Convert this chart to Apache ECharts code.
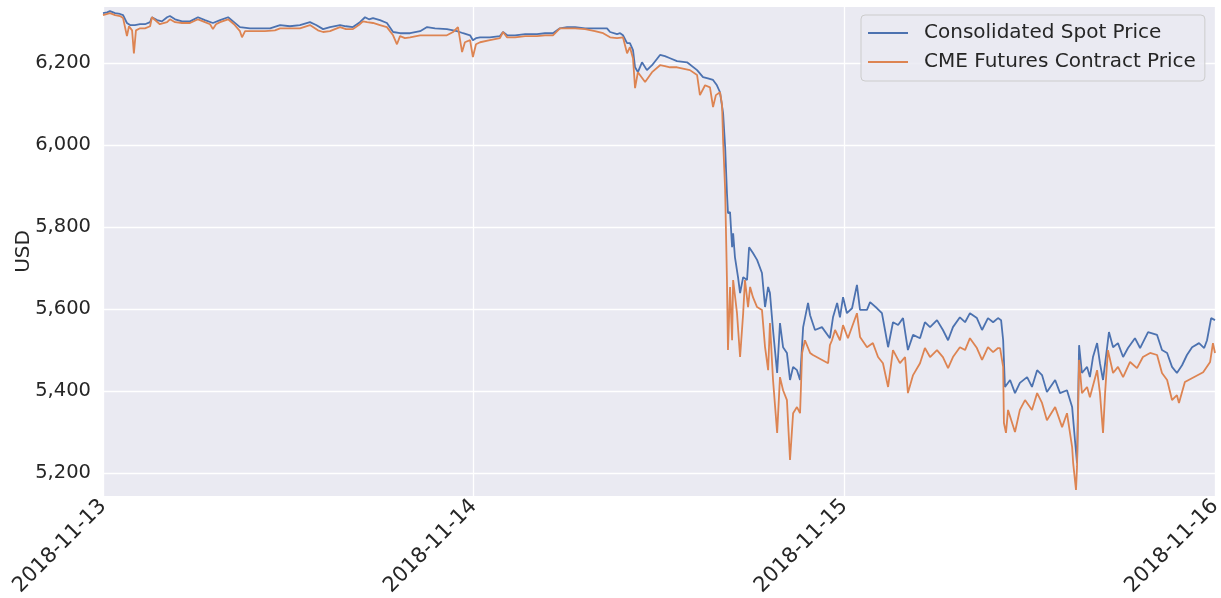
<!DOCTYPE html>
<html>
<head>
<meta charset="utf-8">
<script src="https://cdn.jsdelivr.net/npm/echarts@6/dist/echarts.min.js"></script>
<style>
html,body{margin:0;padding:0;background:#ffffff;}
#chart{width:1221px;height:598px;}
</style>
</head>
<body>
<div id="chart"></div>
<script>
// x: minutes since 2018-11-13 00:00
const dayTickLabels = ['2018-11-13', '2018-11-14', '2018-11-15', '2018-11-16'];
const yTickValues = [5200, 5400, 5600, 5800, 6000, 6200];

const spotMinutes = [
  0,16,27,47,66,78,93,105,124,144,
  163,183,190,210,229,249,260,280,307,338,
  369,396,427,455,486,509,532,571,610,649,
  688,726,765,804,828,855,882,921,944,971,
  998,1018,1033,1049,1076,1103,1127,1154,1193,1232,
  1259,1290,1336,1375,1399,1426,1437,1449,1465,1503,
  1542,1554,1570,1601,1640,1686,1717,1748,1775,1803,
  1834,1873,1911,1943,1958,1970,1997,2009,2020,2036,
  2047,2059,2067,2078,2094,2113,2133,2164,2183,2203,
  2230,2269,2308,2331,2350,2370,2385,2397,2409,2417,
  2424,2428,2436,2444,2448,2455,2467,2475,2487,2502,
  2510,2525,2541,2545,2560,2572,2584,2591,2603,2619,
  2630,2642,2657,2669,2681,2696,2708,2720,2739,2747,
  2766,2793,2824,2836,2852,2863,2875,2890,2910,2929,
  2941,2968,2980,3007,3026,3038,3050,3069,3089,3108,
  3127,3147,3174,3193,3213,3240,3263,3283,3302,3329,
  3349,3368,3395,3415,3438,3458,3477,3489,3497,3504,
  3524,3543,3562,3590,3609,3629,3648,3667,3699,3718,
  3745,3765,3776,3784,3792,3803,3823,3834,3846,3862,
  3873,3885,3901,3908,3924,3943,3963,3982,4009,4029,
  4060,4095,4114,4134,4153,4172,4192,4211,4231,4258,
  4278,4289,4305,4320
];
const spotPrice = [
  6322,6324,6327,6322,6320,6317,6298,6293,6293,6295,
  6295,6300,6312,6305,6302,6312,6315,6307,6302,6302,
  6312,6305,6298,6305,6312,6300,6288,6285,6285,6285,
  6293,6290,6293,6300,6293,6283,6288,6293,6290,6288,
  6300,6312,6307,6310,6305,6298,6276,6273,6273,6278,
  6288,6285,6283,6278,6273,6268,6256,6261,6263,6263,
  6266,6276,6268,6268,6271,6271,6273,6273,6285,6288,
  6288,6285,6285,6285,6285,6276,6271,6273,6268,6249,
  6249,6232,6190,6178,6202,6183,6195,6220,6217,6212,
  6205,6202,6183,6166,6163,6159,6146,6129,6078,5995,
  5883,5834,5837,5751,5785,5727,5678,5639,5678,5671,
  5751,5737,5720,5724,5688,5605,5654,5639,5549,5444,
  5566,5507,5493,5427,5459,5451,5427,5556,5615,5585,
  5549,5556,5529,5580,5615,5580,5629,5590,5602,5659,
  5598,5598,5617,5602,5590,5549,5507,5568,5561,5578,
  5500,5537,5529,5568,5556,5573,5549,5524,5556,5580,
  5568,5590,5578,5549,5578,5568,5578,5573,5524,5410,
  5427,5395,5420,5434,5410,5451,5439,5398,5427,5395,
  5402,5361,5280,5224,5512,5444,5459,5434,5483,5517,
  5468,5427,5507,5544,5507,5517,5483,5505,5529,5505,
  5544,5537,5500,5493,5459,5444,5463,5488,5507,5517,
  5505,5524,5578,5573
];

const futMinutes = [
  0,27,47,66,78,93,101,113,120,128,
  144,163,183,190,221,249,260,280,307,338,
  369,396,416,427,439,455,486,509,532,540,
  552,591,629,668,688,726,765,804,835,855,
  882,901,921,944,971,998,1010,1026,1049,1076,
  1103,1127,1142,1154,1173,1193,1232,1270,1309,1336,
  1360,1379,1395,1406,1426,1437,1449,1465,1503,1542,
  1554,1570,1601,1640,1686,1717,1748,1775,1803,1834,
  1873,1911,1943,1970,1997,2020,2036,2047,2059,2067,
  2078,2106,2133,2164,2183,2203,2230,2280,2308,2319,
  2339,2358,2370,2381,2397,2405,2409,2417,2424,2428,
  2436,2444,2448,2463,2475,2487,2494,2506,2514,2525,
  2541,2560,2572,2584,2591,2603,2619,2630,2642,2657,
  2669,2681,2696,2708,2716,2727,2747,2758,2817,2824,
  2832,2844,2863,2875,2894,2929,2941,2968,2991,3011,
  3030,3050,3069,3096,3116,3127,3147,3174,3193,3213,
  3240,3263,3283,3302,3329,3349,3368,3395,3415,3438,
  3458,3477,3485,3497,3500,3508,3516,3543,3562,3582,
  3609,3629,3648,3667,3699,3726,3745,3765,3769,3780,
  3784,3792,3803,3823,3834,3862,3873,3885,3893,3904,
  3924,3943,3963,3990,4017,4040,4068,4095,4114,4134,
  4153,4172,4180,4203,4274,4301,4312,4320
];
const futPrice = [
  6317,6322,6317,6315,6310,6266,6290,6280,6224,6280,
  6285,6285,6290,6312,6295,6300,6307,6300,6298,6298,
  6307,6300,6295,6283,6295,6300,6307,6295,6278,6263,
  6278,6278,6278,6280,6285,6285,6285,6293,6280,6276,
  6278,6283,6288,6283,6283,6295,6302,6300,6298,6293,
  6288,6268,6246,6266,6261,6263,6268,6268,6268,6268,
  6276,6288,6227,6251,6256,6215,6246,6251,6256,6261,
  6276,6263,6263,6266,6266,6268,6268,6285,6285,6285,
  6283,6278,6273,6263,6261,6263,6224,6239,6212,6139,
  6178,6154,6178,6195,6193,6190,6190,6183,6171,6122,
  6146,6141,6093,6122,6129,6098,6012,5890,5671,5500,
  5654,5524,5671,5590,5483,5590,5671,5605,5654,5629,
  5605,5598,5507,5451,5566,5427,5298,5434,5402,5378,
  5232,5346,5361,5346,5493,5524,5493,5488,5468,5512,
  5524,5549,5524,5561,5529,5590,5532,5507,5517,5483,
  5468,5410,5500,5468,5483,5395,5439,5468,5505,5483,
  5500,5483,5456,5483,5507,5500,5529,5505,5476,5507,
  5495,5505,5505,5459,5322,5298,5354,5300,5354,5378,
  5354,5395,5371,5329,5361,5312,5346,5263,5224,5159,
  5215,5476,5395,5410,5385,5451,5395,5298,5395,5500,
  5444,5459,5434,5471,5456,5483,5493,5488,5444,5427,
  5378,5390,5371,5422,5446,5471,5517,5493
];

const pair = (xs, ys) => xs.map((x, i) => [x, ys[i]]);
const FONT = 'DejaVu Sans';
const TXT = '#262626';

const chart = echarts.init(document.getElementById('chart'), null, {renderer: 'canvas'});
chart.setOption({
  animation: false,
  backgroundColor: '#ffffff',
  textStyle: {fontFamily: FONT},
  grid: {
    left: 103, right: 6, top: 7, bottom: 102,
    outerBoundsMode: 'none', containLabel: false,
    show: true, backgroundColor: '#eaeaf2', borderWidth: 0
  },
  legend: {
    orient: 'vertical',
    left: 861, top: 15,
    padding: [8, 9, 9, 7],
    icon: 'path://M0,0H40V2H0Z',
    itemWidth: 40, itemHeight: 20, itemGap: 9,
    backgroundColor: 'rgba(234,234,242,0.85)',
    borderColor: '#cccccc', borderWidth: 1, borderRadius: 4,
    textStyle: {fontFamily: FONT, fontSize: 20, color: TXT, padding: [0, 0, 0, 11]},
    data: ['Consolidated Spot Price', 'CME Futures Contract Price']
  },
  xAxis: {
    type: 'value', min: 0, max: 4320, interval: 1440,
    axisLine: {show: false}, axisTick: {show: false},
    splitLine: {show: true, lineStyle: {color: '#ffffff', width: 1.3}},
    axisLabel: {
      rotate: 45, margin: 7, fontSize: 21, color: TXT, fontFamily: FONT,
      showMinLabel: true, showMaxLabel: true,
      formatter: v => dayTickLabels[Math.round(v / 1440)]
    }
  },
  yAxis: {
    type: 'value', min: 5144, max: 6337,
    name: 'USD', nameLocation: 'middle', nameGap: 69, nameRotate: 90,
    nameMoveOverlap: false,
    nameTextStyle: {fontSize: 20, color: TXT, fontFamily: FONT},
    axisLine: {show: false},
    axisTick: {show: false, customValues: yTickValues},
    splitLine: {show: true, lineStyle: {color: '#ffffff', width: 1.3}},
    axisLabel: {
      customValues: yTickValues, margin: 12, fontSize: 19.5, color: TXT, fontFamily: FONT,
      formatter: v => v.toLocaleString('en-US')
    }
  },
  series: [
    {
      name: 'Consolidated Spot Price', type: 'line', symbol: 'none',
      data: pair(spotMinutes, spotPrice),
      lineStyle: {color: '#4c72b0', width: 1.8}, itemStyle: {color: '#4c72b0'}
    },
    {
      name: 'CME Futures Contract Price', type: 'line', symbol: 'none',
      data: pair(futMinutes, futPrice),
      lineStyle: {color: '#dd8452', width: 1.8}, itemStyle: {color: '#dd8452'}
    }
  ]
});
</script>
</body>
</html>
